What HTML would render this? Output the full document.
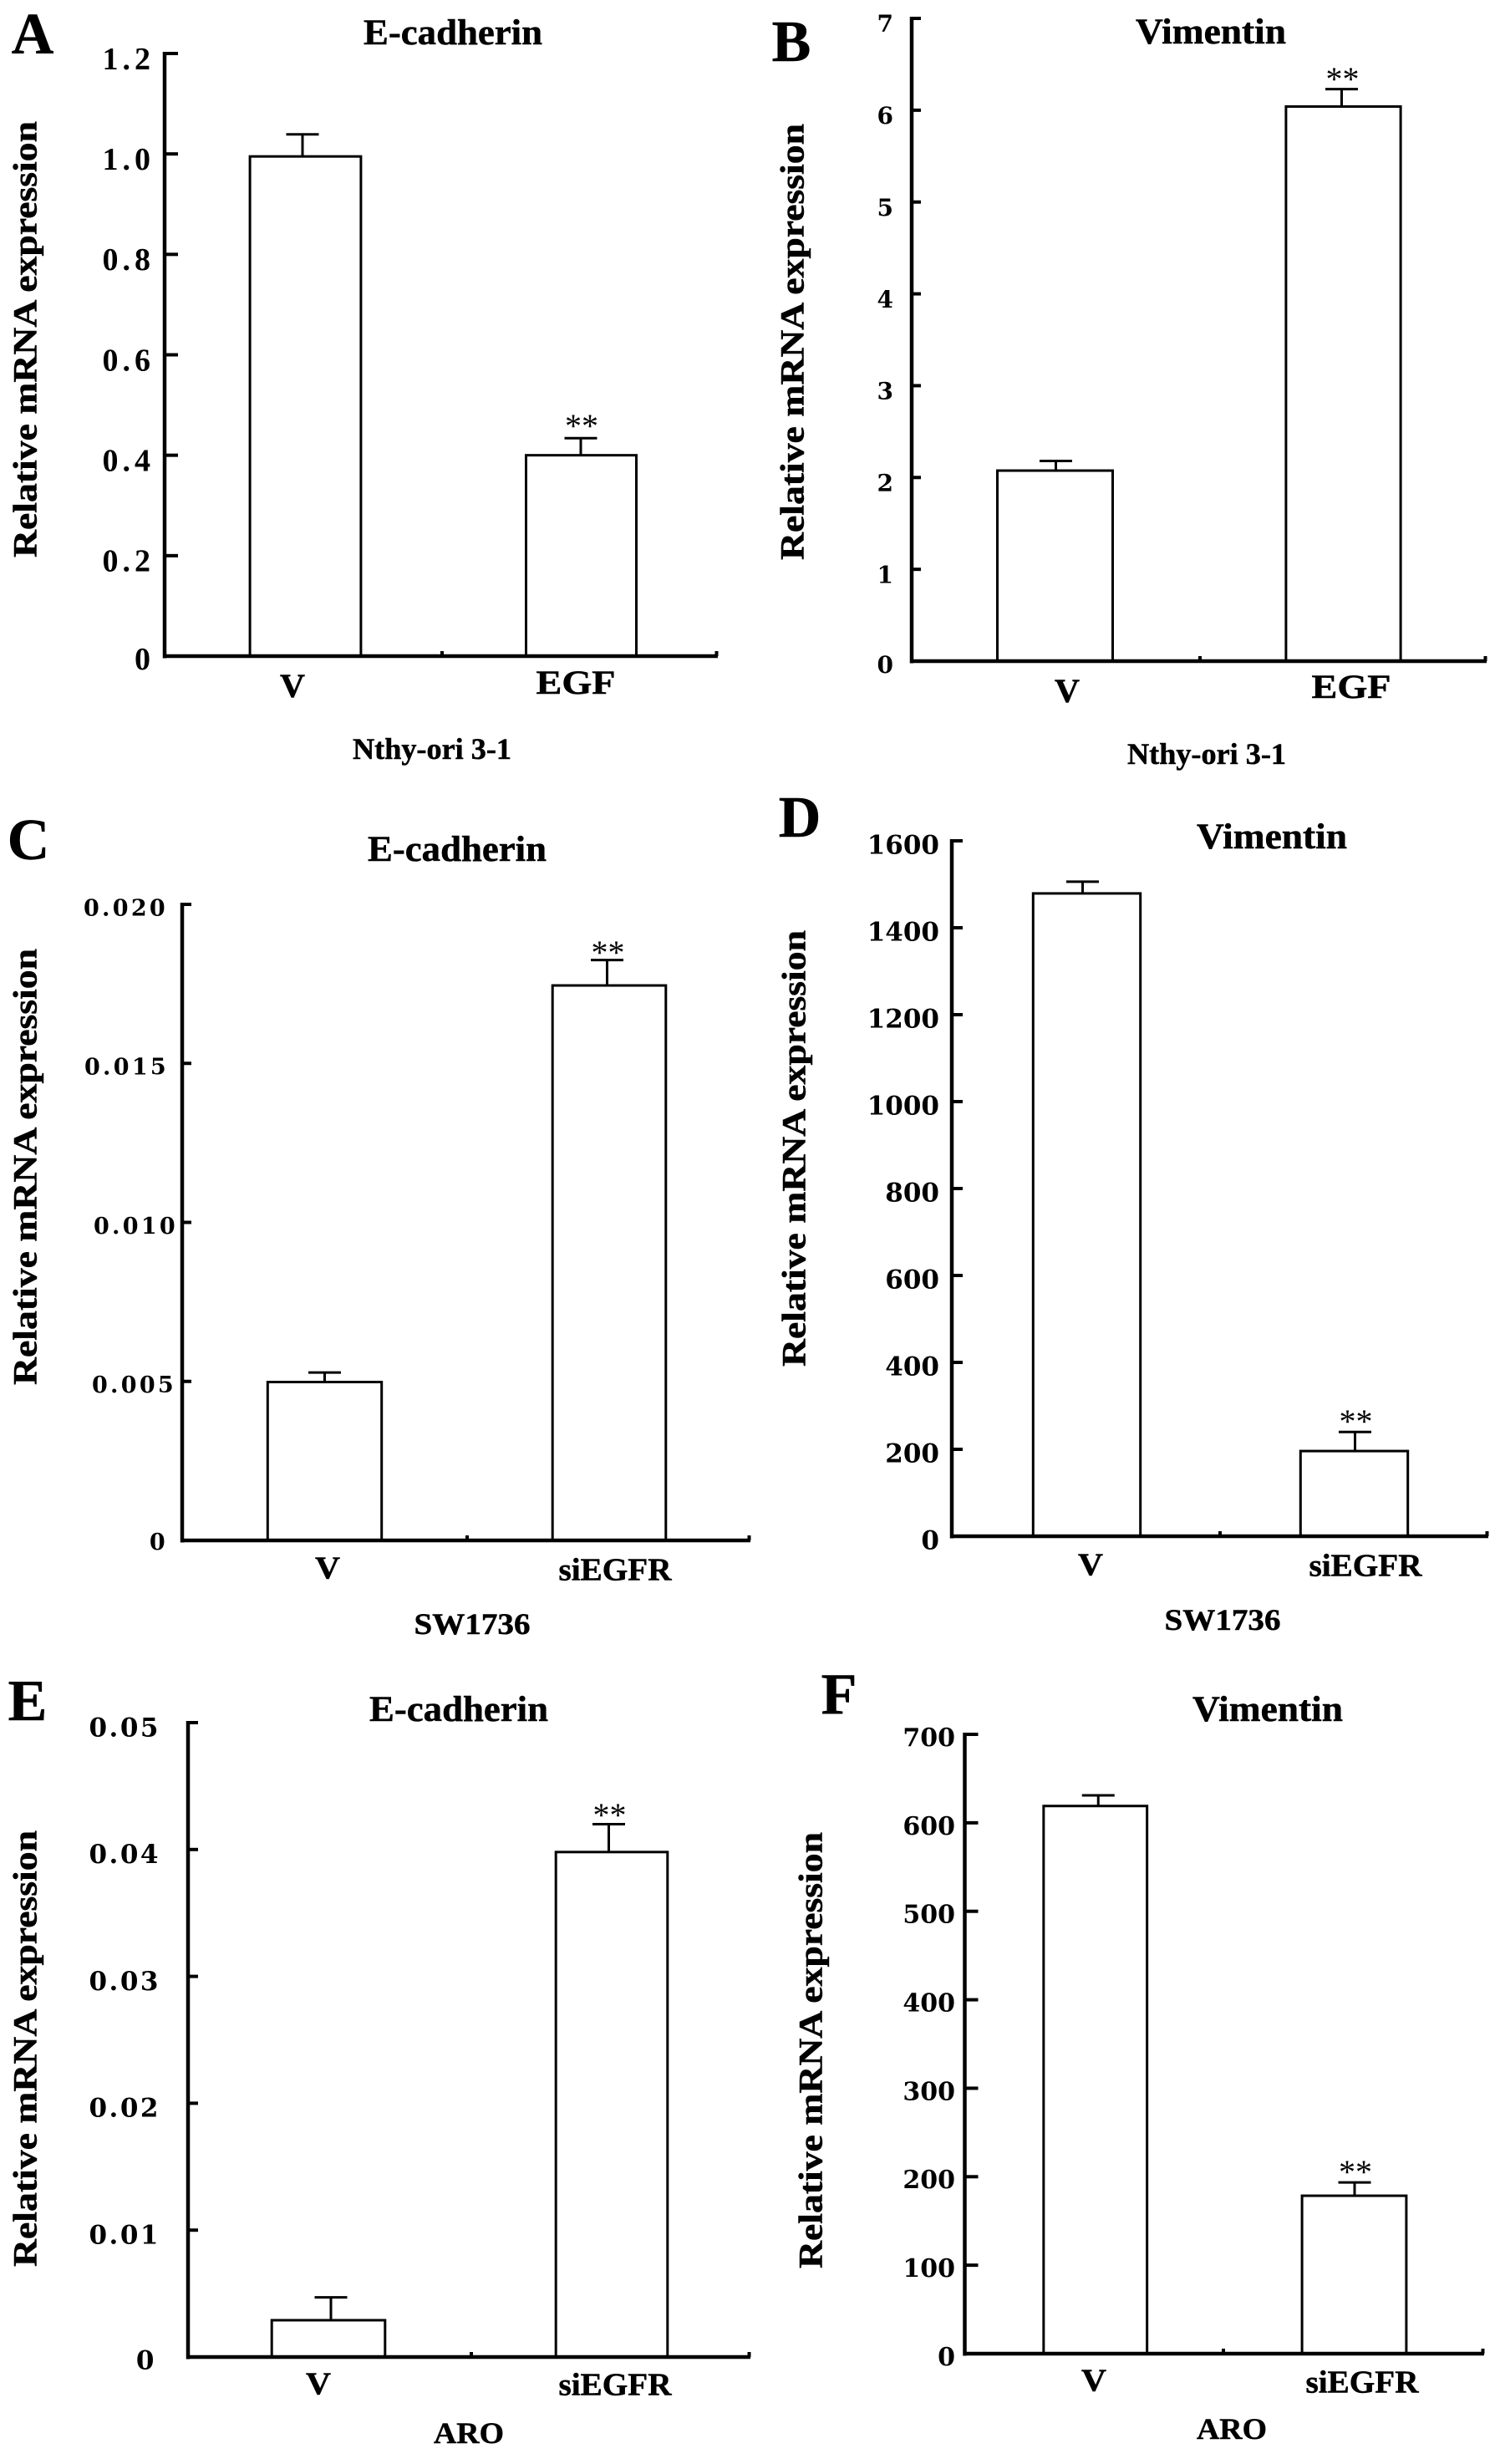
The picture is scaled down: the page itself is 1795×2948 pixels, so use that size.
<!DOCTYPE html>
<html lang="en">
<head>
<meta charset="utf-8">
<title>Relative mRNA expression of E-cadherin and Vimentin</title>
<style>
html,body{margin:0;padding:0;background:#fff;}
#figure{display:block;width:1795px;height:2948px;}
text{font-family:"Liberation Serif",serif;fill:#000;font-weight:bold;}
.tick-text{font-family:"DejaVu Serif","Liberation Serif",serif;}
.tick-text.narrow{font-family:"Liberation Serif",serif;}
.sig{font-weight:normal;}
.heavy{stroke:#000;stroke-width:0.5px;}
</style>
</head>
<body>
<svg id="figure" xmlns="http://www.w3.org/2000/svg" width="1795" height="2948" viewBox="0 0 1795 2948"></svg>
<script>
// ---- Panel data ----
const panelACategories = ["V", "EGF"];
const panelAValues = [0.995, 0.40];
const panelAErrors = [0.044, 0.034];
const panelATicks = [0, 0.2, 0.4, 0.6, 0.8, 1.0, 1.2];
const panelATickLabels = ["0", "0.2", "0.4", "0.6", "0.8", "1.0", "1.2"];

const panelBCategories = ["V", "EGF"];
const panelBValues = [2.075, 6.04];
const panelBErrors = [0.105, 0.19];
const panelBTicks = [0, 1, 2, 3, 4, 5, 6, 7];
const panelBTickLabels = ["0", "1", "2", "3", "4", "5", "6", "7"];

const panelCCategories = ["V", "siEGFR"];
const panelCValues = [0.00498, 0.01745];
const panelCErrors = [0.0003, 0.0008];
const panelCTicks = [0, 0.005, 0.010, 0.015, 0.020];
const panelCTickLabels = ["0", "0.005", "0.010", "0.015", "0.020"];

const panelDCategories = ["V", "siEGFR"];
const panelDValues = [1479, 196];
const panelDErrors = [27, 44];
const panelDTicks = [0, 200, 400, 600, 800, 1000, 1200, 1400, 1600];
const panelDTickLabels = ["0", "200", "400", "600", "800", "1000", "1200", "1400", "1600"];

const panelECategories = ["V", "siEGFR"];
const panelEValues = [0.0029, 0.0398];
const panelEErrors = [0.0018, 0.0022];
const panelETicks = [0, 0.01, 0.02, 0.03, 0.04, 0.05];
const panelETickLabels = ["0", "0.01", "0.02", "0.03", "0.04", "0.05"];

const panelFCategories = ["V", "siEGFR"];
const panelFValues = [619, 178.5];
const panelFErrors = [12, 15];
const panelFTicks = [0, 100, 200, 300, 400, 500, 600, 700];
const panelFTickLabels = ["0", "100", "200", "300", "400", "500", "600", "700"];

// ---- Panel definitions (data references plus layout) ----
const panels = [
  {id:"a", letter:"A", letterAt:[39,41], title:"E-cadherin", titleAt:[542,39], titleW:214, cell:"Nthy-ori 3-1", cellAt:[517,896], cellW:190,
   cats:panelACategories, vals:panelAValues, errs:panelAErrors, ticks:panelATicks, tickLabels:panelATickLabels,
   x0:197, xMid:529, xEnd:859, yTop:64, yBottom:785, tickLen:16, tickFs:38, tickLs:5, tickNarrow:true, labelRight:185, labelDy:6, zeroDx:0, zeroDy:-3,
   ylabelAt:[34,406], catAt:[[350,821],[689,817]], catW:[30,95], catFs:40, sigY:506, barShift:[2.5,1.5], errShift:[-1,1]},
  {id:"b", letter:"B", letterAt:[947,50], title:"Vimentin", titleAt:[1449,38], titleW:180, cell:"Nthy-ori 3-1", cellAt:[1444,902], cellW:190,
   cats:panelBCategories, vals:panelBValues, errs:panelBErrors, ticks:panelBTicks, tickLabels:panelBTickLabels,
   x0:1091, xMid:1436, xEnd:1779, yTop:22, yBottom:791, tickLen:11, tickFs:28, tickLs:0, labelRight:1069, labelDy:6, zeroDx:0, zeroDy:-2,
   ylabelAt:[952,409], catAt:[[1277,827],[1617,822]], catW:[30,95], catFs:40, sigY:91, barShift:[-1,0], errShift:[0,-2]},
  {id:"c", letter:"C", letterAt:[34,1005], title:"E-cadherin", titleAt:[547,1016], titleW:214, cell:"SW1736", cellAt:[565,1943], cellW:139,
   cats:panelCCategories, vals:panelCValues, errs:panelCErrors, ticks:panelCTicks, tickLabels:panelCTickLabels,
   x0:218, xMid:559, xEnd:898, yTop:1082, yBottom:1843, tickLen:11, tickFs:27, tickLs:3.3, labelRight:201, labelDy:3.5, zeroDx:0, zeroDy:-2.5,
   labelDxs:[0,10,12,1,0],
   ylabelAt:[34,1396], catAt:[[392,1876],[736,1878]], catW:[30,135], catFs:38, sigY:1136, barShift:[0,0.5], errShift:[0,-2]},
  {id:"d", letter:"D", letterAt:[957,978], title:"Vimentin", titleAt:[1522,1001], titleW:180, cell:"SW1736", cellAt:[1463,1938], cellW:139,
   cats:panelDCategories, vals:panelDValues, errs:panelDErrors, ticks:panelDTicks, tickLabels:panelDTickLabels,
   x0:1139, xMid:1460, xEnd:1781, yTop:1006, yBottom:1838, tickLen:13, tickFs:31, tickLs:0, labelRight:1124, labelDy:4, zeroDx:0, zeroDy:0,
   ylabelAt:[954,1374], catAt:[[1305,1872],[1634,1873]], catW:[30,135], catFs:38, sigY:1697, barShift:[1,0], errShift:[-4,1]},
  {id:"e", letter:"E", letterAt:[33,2035], title:"E-cadherin", titleAt:[549,2045], titleW:214, cell:"ARO", cellAt:[561,2911], cellW:84,
   cats:panelECategories, vals:panelEValues, errs:panelEErrors, ticks:panelETicks, tickLabels:panelETickLabels,
   x0:225, xMid:564, xEnd:898, yTop:2061, yBottom:2820, tickLen:12, tickFs:31, tickLs:2.5, labelRight:192, labelDy:5, zeroDx:-5, zeroDy:-2,
   ylabelAt:[34,2451], catAt:[[381,2852],[736,2853]], catW:[30,135], catFs:38, sigY:2168, barShift:[-1.5,1], errShift:[1.5,-2.5]},
  {id:"f", letter:"F", letterAt:[1004,2027], title:"Vimentin", titleAt:[1517,2045], titleW:180, cell:"ARO", cellAt:[1474,2906], cellW:84,
   cats:panelFCategories, vals:panelFValues, errs:panelFErrors, ticks:panelFTicks, tickLabels:panelFTickLabels,
   x0:1154.5, xMid:1464, xEnd:1776, yTop:2075, yBottom:2816, tickLen:16, tickFs:30, tickLs:0, labelRight:1143, labelDy:3, zeroDx:0, zeroDy:0,
   ylabelAt:[974,2453], catAt:[[1309,2848],[1630,2850]], catW:[30,135], catFs:38, sigY:2595, barShift:[1.5,0.5], errShift:[5,1]}
];

const svgNS = "http://www.w3.org/2000/svg";
const root = document.getElementById("figure");

function make(tag, attrs, parent) {
  const el = document.createElementNS(svgNS, tag);
  for (const k in attrs) el.setAttribute(k, attrs[k]);
  parent.appendChild(el);
  return el;
}

function centeredText(parent, str, cx, cy, fs, width) {
  const attrs = {x: cx, y: cy + 0.33 * fs, "text-anchor": "middle", "font-size": fs, "class": "heavy"};
  if (width) {
    attrs.textLength = width;
    attrs.lengthAdjust = "spacingAndGlyphs";
  }
  const t = make("text", attrs, parent);
  t.textContent = str;
  return t;
}

panels.forEach(function (p) {
  const g = make("g", {}, root);
  
  

  const yMax = p.ticks[p.ticks.length - 1];
  const yScale = function (v) { return p.yBottom - (v / yMax) * (p.yBottom - p.yTop); };
  const bandEdges = [p.x0, p.xMid, p.xEnd];
  const bandCenter = function (i) { return (bandEdges[i] + bandEdges[i + 1]) / 2; };
  const bandWidth = function (i) { return bandEdges[i + 1] - bandEdges[i]; };

  // panel letter
  const letter = centeredText(g, p.letter, p.letterAt[0], p.letterAt[1], 70);
  
  

  // title
  const title = centeredText(g, p.title, p.titleAt[0], p.titleAt[1], 43, p.titleW);
  
  

  // y-axis title
  const yFs = 40;
  const yTitle = make("text", {
    x: p.ylabelAt[0] + 0.24 * yFs, y: p.ylabelAt[1], "text-anchor": "middle", "font-size": yFs, "class": "heavy",
    textLength: 522, lengthAdjust: "spacingAndGlyphs",
    transform: "rotate(-90 " + (p.ylabelAt[0] + 0.24 * yFs) + " " + p.ylabelAt[1] + ")"
  }, g);
  yTitle.textContent = "Relative mRNA expression";
  
  

  // bars and error bars
  p.vals.forEach(function (v, i) {
    const w = bandWidth(i) * 0.4;
    const cx = bandCenter(i) + p.barShift[i];
    const top = yScale(v);
    const bar = make("rect", {x: cx - w / 2, y: top, width: w, height: p.yBottom - top, fill: "#fff", stroke: "#000", "stroke-width": 3}, g);
    
    

    const ex = bandCenter(i) + p.errShift[i];
    const eTop = yScale(v + p.errs[i]);
    const stem = make("line", {x1: ex, x2: ex, y1: top, y2: eTop, stroke: "#000", "stroke-width": 3}, g);
    
    
    const cap = make("line", {x1: ex - 19.5, x2: ex + 19.5, y1: eTop, y2: eTop, stroke: "#000", "stroke-width": 3}, g);
    
    

    // category label
    const cat = centeredText(g, p.cats[i], p.catAt[i][0], p.catAt[i][1], p.catFs, p.catW[i]);
    
    
  });

  // significance marks sit over the treated bar
  const sig = make("text", {x: bandCenter(1) + p.errShift[1] + 1, y: p.sigY + 17, "text-anchor": "middle", "font-size": 40, "class": "sig"}, g);
  sig.textContent = "**";
  
  

  // y axis and ticks
  const yAxis = make("line", {x1: p.x0, x2: p.x0, y1: p.yTop - 2, y2: p.yBottom + 2.5, stroke: "#000", "stroke-width": 4.5}, g);
  
  

  p.ticks.forEach(function (t, i) {
    const ty = yScale(t);
    if (t !== 0) {
      const tk = make("line", {x1: p.x0, x2: p.x0 + p.tickLen, y1: ty, y2: ty, stroke: "#000", "stroke-width": 4}, g);
      
      
    }
    let right = p.labelRight;
    let dy = p.labelDy;
    if (p.labelDxs) right += p.labelDxs[i];
    if (t === 0) {
      right += p.zeroDx;
      dy += p.zeroDy;
    }
    const baseOffset = p.tickNarrow ? 0.338 : 0.365;
    const lab = make("text", {
      x: right, y: ty + dy + baseOffset * p.tickFs, "text-anchor": "end", "font-size": p.tickFs,
      "letter-spacing": p.tickLs, "class": p.tickNarrow ? "tick-text narrow" : "tick-text"
    }, g);
    lab.textContent = p.tickLabels[i];
    
    
  });

  // x axis with band ticks
  const xAxis = make("line", {x1: p.x0 - 2, x2: p.xEnd, y1: p.yBottom, y2: p.yBottom, stroke: "#000", "stroke-width": 4.5}, g);
  
  
  [p.xMid, p.xEnd - 1.5].forEach(function (tx) {
    const tk = make("line", {x1: tx, x2: tx, y1: p.yBottom, y2: p.yBottom - 6, stroke: "#000", "stroke-width": 4}, g);
    
    
  });

  // cell line label
  const cell = centeredText(g, p.cell, p.cellAt[0], p.cellAt[1], 36, p.cellW);
  
  
});
</script>
</body>
</html>
